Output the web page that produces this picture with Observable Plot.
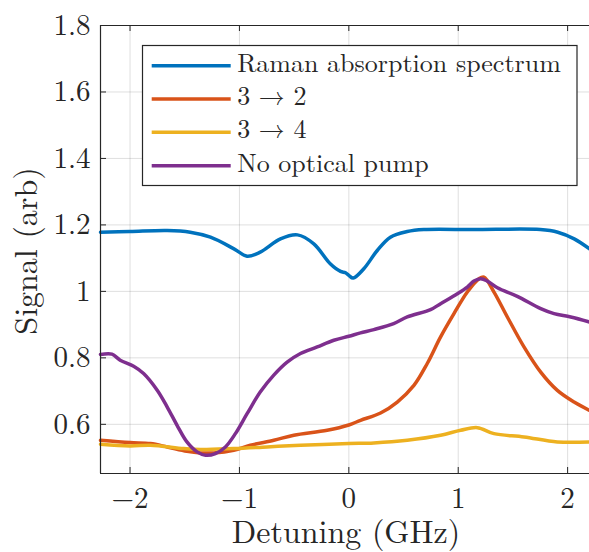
<!DOCTYPE html>
<html>
<head>
<meta charset="utf-8">
<script src="https://cdn.jsdelivr.net/npm/d3@7"></script>
<script src="https://cdn.jsdelivr.net/npm/@observablehq/plot@0.6"></script>
<style>
  body { margin: 0; background: #fff; }
  #chart { width: 589px; height: 552px; }
</style>
</head>
<body>
<div id="chart"></div>
<script>
// ---- Data ----
const xTicks = [-2, -1, 0, 1, 2];
const yTicks = [0.6, 0.8, 1, 1.2, 1.4, 1.6, 1.8];
const seriesNames = ["Raman absorption spectrum", "3 \u2192 2", "3 \u2192 4", "No optical pump"];
const seriesColors = ["#0072BD", "#D95319", "#EDB120", "#7E2F8E"];

const ramanX = [-2.27, -2.0, -1.66, -1.45, -1.265, -1.05, -0.93, -0.81, -0.625, -0.47, -0.32, -0.17, -0.076, -0.03, 0.0, 0.04, 0.137, 0.26, 0.38, 0.534, 0.686, 1.14, 1.75, 1.91, 2.06, 2.2];
const ramanY = [1.178, 1.180, 1.183, 1.178, 1.163, 1.128, 1.106, 1.118, 1.158, 1.170, 1.143, 1.083, 1.060, 1.056, 1.048, 1.040, 1.068, 1.123, 1.163, 1.180, 1.186, 1.186, 1.186, 1.178, 1.158, 1.128];

const pump32X = [-2.27, -2.0, -1.814, -1.66, -1.48, -1.357, -1.235, -1.052, -0.9, -0.686, -0.503, -0.198, 0.0, 0.107, 0.29, 0.443, 0.595, 0.717, 0.839, 0.961, 1.083, 1.19, 1.235, 1.327, 1.449, 1.601, 1.754, 1.906, 2.059, 2.2];
const pump32Y = [0.552, 0.545, 0.542, 0.532, 0.519, 0.514, 0.514, 0.522, 0.537, 0.552, 0.567, 0.582, 0.598, 0.612, 0.634, 0.667, 0.717, 0.783, 0.863, 0.933, 0.998, 1.038, 1.043, 0.998, 0.923, 0.833, 0.757, 0.702, 0.667, 0.642];

const pump34X = [-2.27, -2.0, -1.814, -1.51, -1.357, -1.052, -0.747, -0.442, 0.0, 0.229, 0.534, 0.839, 1.022, 1.175, 1.327, 1.601, 1.906, 2.2];
const pump34Y = [0.540, 0.535, 0.537, 0.527, 0.524, 0.527, 0.532, 0.537, 0.542, 0.544, 0.552, 0.567, 0.582, 0.590, 0.572, 0.562, 0.547, 0.547];

const noPumpX = [-2.27, -2.165, -2.09, -1.967, -1.876, -1.75, -1.66, -1.57, -1.48, -1.387, -1.31, -1.22, -1.128, -1.037, -0.93, -0.81, -0.686, -0.564, -0.442, -0.289, -0.137, 0.0, 0.107, 0.229, 0.41, 0.534, 0.747, 0.839, 0.992, 1.083, 1.144, 1.205, 1.266, 1.358, 1.54, 1.754, 1.876, 2.028, 2.2];
const noPumpY = [0.810, 0.811, 0.793, 0.775, 0.753, 0.702, 0.652, 0.597, 0.547, 0.517, 0.507, 0.512, 0.532, 0.572, 0.632, 0.697, 0.748, 0.787, 0.813, 0.833, 0.853, 0.865, 0.875, 0.885, 0.903, 0.923, 0.945, 0.963, 0.993, 1.013, 1.031, 1.038, 1.031, 1.011, 0.985, 0.948, 0.933, 0.923, 0.908];

const xLabel = "Detuning (GHz)";
const yLabel = "Signal (arb)";

// ---- Build ----
const X_MIN = -2.27, X_MAX = 2.2, Y_MIN = 0.452, Y_MAX = 1.8;
const W = 589, H = 552, ML = 100, MR = 0, MT = 25, MB = 79;
const AX = "#262626";
const FONT = '"Latin Modern Roman", "Liberation Serif", serif';

const toRows = (xs, ys) => xs.map((x, i) => ({x, y: ys[i]}));
const allSeries = [toRows(ramanX, ramanY), toRows(pump32X, pump32Y), toRows(pump34X, pump34Y), toRows(noPumpX, noPumpY)];

const tickDy = 6 / ((H - MT - MB) / (Y_MAX - Y_MIN));
const tickDx = 6 / ((W - ML - MR) / (X_MAX - X_MIN));

const fmtX = d => d < 0 ? "\u2212" + (-d) : String(d);
const fmtY = d => String(d);

const chart = Plot.plot({
  width: W, height: H,
  marginLeft: ML, marginRight: MR, marginTop: MT, marginBottom: MB,
  style: {fontFamily: FONT, fontSize: "29px", color: AX, background: "#fff", overflow: "visible"},
  x: {domain: [X_MIN, X_MAX]},
  y: {domain: [Y_MIN, Y_MAX]},
  marks: [
    Plot.gridX(xTicks, {stroke: AX, strokeOpacity: 0.15, strokeWidth: 1}),
    Plot.gridY(yTicks, {stroke: AX, strokeOpacity: 0.15, strokeWidth: 1}),
    ...allSeries.map((rows, i) => Plot.line(rows, {x: "x", y: "y", stroke: seriesColors[i], strokeWidth: 3.5, curve: "catmull-rom"})),
    Plot.ruleY([Y_MIN, Y_MAX], {stroke: AX, strokeWidth: 1.2}),
    Plot.ruleX([X_MIN], {stroke: AX, strokeWidth: 1.2}),
    Plot.ruleX(xTicks, {y1: Y_MIN, y2: Y_MIN + tickDy, stroke: AX}),
    Plot.ruleX(xTicks, {y1: Y_MAX, y2: Y_MAX - tickDy, stroke: AX}),
    Plot.ruleY(yTicks, {x1: X_MIN, x2: X_MIN + tickDx, stroke: AX}),
    Plot.axisX(xTicks, {tickSize: 0, tickPadding: 14, tickFormat: fmtX, label: null, fill: AX}),
    Plot.axisY(yTicks, {tickSize: 0, tickPadding: 10, tickFormat: fmtY, label: null, fill: AX})
  ]
});

document.getElementById("chart").appendChild(chart);

// Axis titles and legend, appended to the plot's SVG
const svg = d3.select(chart);
svg.append("text")
  .attr("x", 346).attr("y", 543)
  .attr("text-anchor", "middle")
  .style("font-family", FONT).style("font-size", "32px")
  .attr("fill", AX).text(xLabel);
svg.append("text")
  .attr("transform", "translate(37,251) rotate(-90)")
  .attr("text-anchor", "middle")
  .style("font-family", FONT).style("font-size", "32px")
  .attr("fill", AX).text(yLabel);

const lg = svg.append("g");
lg.append("rect").attr("x", 142.5).attr("y", 45.5).attr("width", 434.5).attr("height", 140)
  .attr("fill", "#fff").attr("stroke", AX).attr("stroke-width", 1.2);
seriesNames.forEach((name, i) => {
  const cy = 65.7 + i * 33.33;
  lg.append("line").attr("x1", 151.7).attr("x2", 230.7).attr("y1", cy).attr("y2", cy)
    .attr("stroke", seriesColors[i]).attr("stroke-width", 3.5);
  lg.append("text").attr("x", 237.2).attr("y", cy + 6)
    .attr("text-anchor", "start")
    .style("font-family", FONT).style("font-size", "26px")
    .attr("fill", AX).text(name);
});
</script>
</body>
</html>
